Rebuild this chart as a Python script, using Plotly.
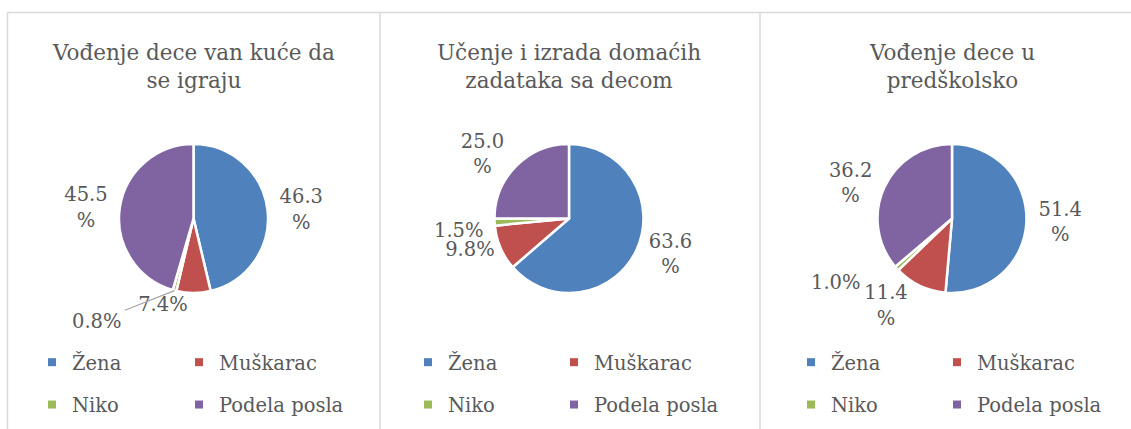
import math
import plotly.graph_objects as go

W, H = 1131, 429

categories = ["Žena", "Muškarac", "Niko", "Podela posla"]
colors = ["#4F81BD", "#C0504D", "#9BBB59", "#8064A2"]

titles = [
    "Vođenje dece van kuće da<br>se igraju",
    "Učenje i izrada domaćih<br>zadataka sa decom",
    "Vođenje dece u<br>predškolsko",
]
values_1 = [46.3, 7.4, 0.8, 45.5]
values_2 = [63.6, 9.8, 1.5, 25.0]
values_3 = [51.4, 11.4, 1.0, 36.2]
panel_values = [values_1, values_2, values_3]

# layout (pixels)
pie_cx = [193.5, 569.0, 952.0]
pie_cy = 218.5
pie_r = 74.5
title_cy = 66
legend_col_x = [[32, 179], [408, 554], [791, 937]]
legend_top = 343
panel_edges = [7.5, 380, 760, 1131]
top_line = 12.5

# the tiny "Niko" slice labels are placed as annotations off the slice edge
small_idx = 2
small_label_offsets = [(-78, 31), (-36, 8), (-61, 14)]  # pixels (dx, dy down)
small_label_leader = [True, False, False]

FONT = "DejaVu Serif"
GREY = "#595959"
TITLE_SIZE = 21.5
TEXT_SIZE = 19.5


def px(x):
    return x / W


def py(y):
    return 1 - y / H


fig = go.Figure()
annotations = []

for i, vals in enumerate(panel_values):
    templates = ["%{value:.1f}<br>%" if v >= 10 else "%{value:.1f}%" for v in vals]
    positions = ["none" if k == small_idx else "outside" for k in range(len(vals))]
    fig.add_trace(go.Pie(
        labels=categories,
        values=vals,
        sort=False,
        direction="clockwise",
        rotation=0,
        marker=dict(colors=colors, line=dict(color="white", width=2.5)),
        textposition=positions,
        texttemplate=templates,
        outsidetextfont=dict(family=FONT, size=TEXT_SIZE, color=GREY),
        textfont=dict(family=FONT, size=TEXT_SIZE, color=GREY),
        showlegend=False,
        hoverinfo="label+value",
        domain=dict(x=[px(pie_cx[i] - pie_r), px(pie_cx[i] + pie_r)],
                    y=[py(pie_cy + pie_r), py(pie_cy - pie_r)]),
    ))

    # label of the small slice, anchored at the slice's mid-angle on the rim
    total = sum(vals)
    before = sum(vals[:small_idx])
    theta = 2 * math.pi * (before + vals[small_idx] / 2) / total
    ex = pie_cx[i] + pie_r * math.sin(theta)
    ey = pie_cy - pie_r * math.cos(theta)
    dx, dy = small_label_offsets[i]
    label = f"{vals[small_idx]:.1f}%"
    if small_label_leader[i]:
        annotations.append(dict(
            text=label, x=px(ex), y=py(ey), xref="paper", yref="paper",
            showarrow=True, ax=dx, ay=dy, arrowhead=0, arrowwidth=1.3,
            arrowcolor="#a6a6a6", standoff=0, startstandoff=2,
            font=dict(family=FONT, size=TEXT_SIZE, color=GREY),
        ))
    else:
        annotations.append(dict(
            text=label, x=px(ex), y=py(ey), xref="paper", yref="paper",
            showarrow=False, xanchor="center", yanchor="middle",
            xshift=dx, yshift=-dy,
            font=dict(family=FONT, size=TEXT_SIZE, color=GREY),
        ))

# legends: two columns per panel
legend_layouts = {}
li = 0
for p in range(3):
    for col in range(2):
        li += 1
        name = "legend" if li == 1 else f"legend{li}"
        legend_layouts[name] = dict(
            x=px(legend_col_x[p][col]), xanchor="left",
            y=py(legend_top), yanchor="top",
            orientation="v",
            font=dict(family=FONT, size=TEXT_SIZE, color=GREY),
            bgcolor="rgba(0,0,0,0)",
            tracegroupgap=14,
            itemclick=False, itemdoubleclick=False,
        )
        for k in (col, col + 2):
            fig.add_trace(go.Scatter(
                x=[None], y=[None], mode="markers",
                name=categories[k],
                marker=dict(symbol="square", size=8, color=colors[k]),
                legend=name,
                legendgroup=f"p{p}-{categories[k]}",
                showlegend=True,
                hoverinfo="skip",
            ))

for i, t in enumerate(titles):
    annotations.append(dict(
        text=t, x=px(pie_cx[i]), y=py(title_cy), xref="paper", yref="paper",
        xanchor="center", yanchor="middle", showarrow=False,
        font=dict(family=FONT, size=TITLE_SIZE, color=GREY),
    ))

shapes = [dict(type="line", xref="paper", yref="paper",
               x0=px(panel_edges[0]), x1=1, y0=py(top_line), y1=py(top_line),
               line=dict(color="#d9d9d9", width=1.5))]
for xe in panel_edges[:3]:
    shapes.append(dict(type="line", xref="paper", yref="paper",
                       x0=px(xe), x1=px(xe), y0=py(top_line), y1=0,
                       line=dict(color="#d9d9d9", width=1.5)))

fig.update_layout(
    width=W, height=H,
    margin=dict(l=0, r=0, t=0, b=0, autoexpand=False),
    paper_bgcolor="white", plot_bgcolor="white",
    font=dict(family=FONT, color=GREY),
    xaxis=dict(visible=False), yaxis=dict(visible=False),
    annotations=annotations,
    shapes=shapes,
    **legend_layouts,
)

fig.write_html("out.html", config={"displayModeBar": False},
               post_script="document.body.style.margin='0';")
